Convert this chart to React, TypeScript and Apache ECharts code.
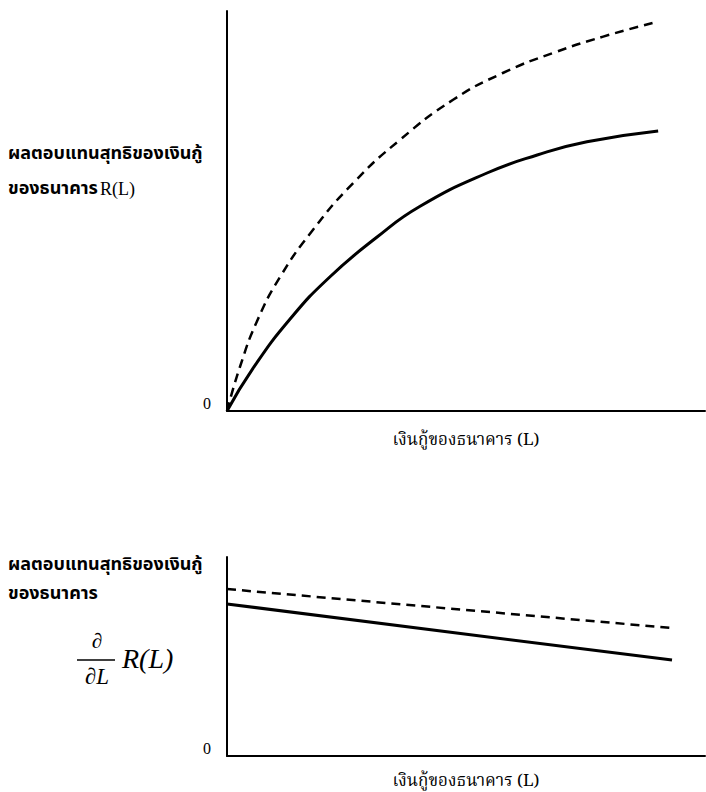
import React, { useEffect, useRef } from "react";
import * as echarts from "echarts";

// Top panel: net return on bank loans R(L) (x = loans L, y = return)
const topDashedL = [0, 2.7, 6.3, 11.1, 18.0, 26.4, 36.2, 47.3, 57.7, 68.2, 78.7, 90.0];
const topDashedR = [0, 11.0, 22.5, 33.5, 45.3, 57.0, 67.8, 77.8, 84.5, 89.5, 93.6, 97.3];
const topSolidL = [0, 5.4, 13.2, 21.5, 31.4, 40.4, 54.4, 64.9, 75.3, 90.2];
const topSolidR = [0, 10.6, 23.0, 33.5, 43.5, 51.2, 59.5, 64.0, 67.3, 70.0];

// Bottom panel: marginal return dR/dL
const botDashedL = [0, 93.1];
const botDashedR = [83.9, 64.3];
const botSolidL = [0, 93.1];
const botSolidR = [76.4, 48.2];

const yTicks = [0];
const xTitle = "เงินกู้ของธนาคาร (L)";
const yTitleLine1 = "ผลตอบแทนสุทธิของเงินกู้";
const yTitleLine2 = "ของธนาคาร";

const pairs = (xs: number[], ys: number[]) => xs.map((x, i) => [x, ys[i]]);

const THAI_BOLD = '"Noto Sans Thai", "Loma", "Garuda", "Tlwg Typo", "Noto Sans", sans-serif';
const THAI_SERIF = '"Noto Serif Thai", "Norasi", "Kinnari", "Liberation Serif", serif';
const SERIF = '"Liberation Serif", "DejaVu Serif", serif';

export default function App() {
  const ref = useRef<HTMLDivElement>(null);
  useEffect(() => {
    document.body.style.margin = "0";
    const chart = echarts.init(ref.current!, null, { renderer: "svg" });
    const axisLine = { show: true, lineStyle: { color: "#000", width: 2 } };
    const xAxisCommon = {
      type: "value" as const,
      min: 0,
      max: 100,
      axisLine,
      axisTick: { show: false },
      axisLabel: { show: false },
      splitLine: { show: false },
      name: xTitle,
      nameLocation: "middle" as const,
      nameTextStyle: { color: "#000", fontFamily: THAI_SERIF, fontSize: 17, lineHeight: 18 },
    };
    const yAxisCommon = {
      type: "value" as const,
      min: 0,
      max: 100,
      interval: 100,
      axisLine,
      axisTick: { show: false },
      splitLine: { show: false },
      axisLabel: {
        show: true,
        color: "#000",
        fontFamily: SERIF,
        fontSize: 16,
        margin: 16,
        verticalAlign: "bottom" as const,
        formatter: (v: number) => (yTicks.includes(v) ? String(v) : ""),
      },
    };
    chart.setOption({
      animation: false,
      backgroundColor: "#fff",
      grid: [
        { left: 227, top: 11, width: 478, height: 400 },
        { left: 227, top: 557, width: 478, height: 199 },
      ],
      xAxis: [
        { ...xAxisCommon, gridIndex: 0, nameGap: 20 },
        { ...xAxisCommon, gridIndex: 1, nameGap: 16 },
      ],
      yAxis: [
        { ...yAxisCommon, gridIndex: 0 },
        { ...yAxisCommon, gridIndex: 1 },
      ],
      series: [
        {
          type: "line",
          xAxisIndex: 0,
          yAxisIndex: 0,
          data: pairs(topDashedL, topDashedR),
          smooth: 0.5,
          symbol: "none",
          lineStyle: { color: "#000", width: 2.5, type: [9, 6] },
        },
        {
          type: "line",
          xAxisIndex: 0,
          yAxisIndex: 0,
          data: pairs(topSolidL, topSolidR),
          smooth: 0.5,
          symbol: "none",
          lineStyle: { color: "#000", width: 3 },
        },
        {
          type: "line",
          xAxisIndex: 1,
          yAxisIndex: 1,
          data: pairs(botDashedL, botDashedR),
          symbol: "none",
          lineStyle: { color: "#000", width: 2.5, type: [9, 6] },
        },
        {
          type: "line",
          xAxisIndex: 1,
          yAxisIndex: 1,
          data: pairs(botSolidL, botSolidR),
          symbol: "none",
          lineStyle: { color: "#000", width: 3 },
        },
      ],
      graphic: [
        {
          type: "text",
          left: 8,
          top: 144,
          style: { text: yTitleLine1, font: `bold 18px ${THAI_BOLD}`, fill: "#000" },
        },
        {
          type: "text",
          left: 8,
          top: 179,
          style: { text: yTitleLine2, font: `bold 18px ${THAI_BOLD}`, fill: "#000" },
        },
        {
          type: "text",
          left: 100,
          top: 180,
          style: { text: "R(L)", font: `18px ${SERIF}`, fill: "#000" },
        },
        {
          type: "text",
          left: 8,
          top: 555,
          style: { text: yTitleLine1, font: `bold 18px ${THAI_BOLD}`, fill: "#000" },
        },
        {
          type: "text",
          left: 8,
          top: 584,
          style: { text: yTitleLine2, font: `bold 18px ${THAI_BOLD}`, fill: "#000" },
        },
        {
          type: "text",
          x: 97,
          y: 641,
          style: {
            text: "∂",
            font: `italic 21px ${SERIF}`,
            fill: "#000",
            align: "center",
            verticalAlign: "middle",
          },
        },
        {
          type: "line",
          shape: { x1: 77, y1: 660, x2: 115, y2: 660 },
          style: { stroke: "#000", lineWidth: 1.5 },
        },
        {
          type: "text",
          x: 97,
          y: 676,
          style: {
            text: "∂L",
            font: `italic 23px ${SERIF}`,
            fill: "#000",
            align: "center",
            verticalAlign: "middle",
          },
        },
        {
          type: "text",
          x: 122,
          y: 658,
          style: {
            text: "R(L)",
            font: `italic 28px ${SERIF}`,
            fill: "#000",
            align: "left",
            verticalAlign: "middle",
          },
        },
      ],
    });
    return () => chart.dispose();
  }, []);
  return <div ref={ref} style={{ width: 706, height: 792 }} />;
}
